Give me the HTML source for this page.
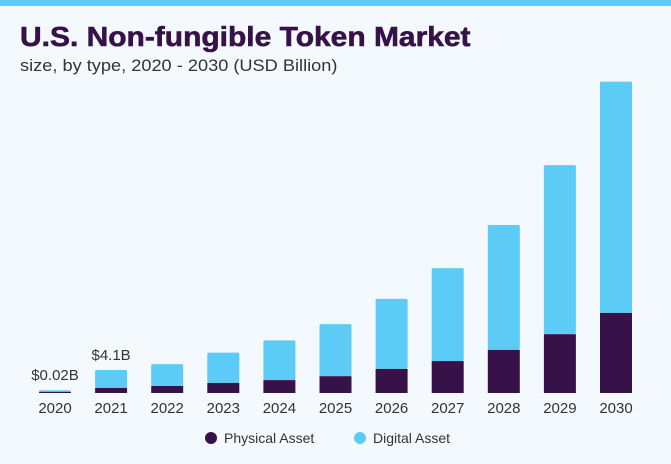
<!DOCTYPE html>
<html><head><meta charset="utf-8"><style>
body{margin:0;width:671px;height:464px;background:#f4f9fd;font-family:"Liberation Sans",sans-serif;overflow:hidden;position:relative}
.top{position:absolute;left:0;top:0;width:671px;height:6px;background:#5ccbf5}
.title{position:absolute;left:20px;top:21px;font-size:28px;font-weight:bold;color:#361248;letter-spacing:0px;transform:scaleX(1.07);transform-origin:left;white-space:nowrap;-webkit-text-stroke:0.6px #361248}
.sub{position:absolute;left:20px;top:56px;font-size:17px;color:#333;transform:scaleX(1.07);transform-origin:left;white-space:nowrap}
</style></head><body>
<div class="top"></div>
<div class="title">U.S. Non-fungible Token Market</div>
<div class="sub">size, by type, 2020 - 2030 (USD Billion)</div>
<svg id="chart" width="671" height="464" style="position:absolute;left:0;top:0"></svg>
<script>
const years=["2020","2021","2022","2023","2024","2025","2026","2027","2028","2029","2030"];
const physical=[0.2,0.9,1.25,1.8,2.3,3.0,4.3,5.7,7.7,10.5,14.3];
const digital=[0.3,3.2,3.9,5.4,7.1,9.3,12.5,16.6,22.3,30.2,41.3];
const annotations=["$0.02B","$4.1B"];
const ns="http://www.w3.org/2000/svg";
const svg=document.getElementById('chart');
const baseY=393,pxPer=5.6,x0=55,step=56.1,bw=32;
const xs=i=>x0+i*step;
const ys=v=>v*pxPer;
function mk(t,a){const e=document.createElementNS(ns,t);for(const k in a)e.setAttribute(k,a[k]);svg.appendChild(e);return e;}
years.forEach((y,i)=>{
  const hp=ys(physical[i]),hd=ys(digital[i]);
  const d=mk('rect',{x:xs(i)-bw/2,y:baseY-hp-hd,width:bw,height:hd,fill:'#5ccbf5',rx:1.5});
  
  
  const p=mk('rect',{x:xs(i)-bw/2,y:baseY-hp,width:bw,height:hp,fill:'#361248'});
  
  
  const t=mk('text',{x:xs(i),y:baseY+20,'text-anchor':'middle','font-size':15,fill:'#333'});
  t.textContent=y;
  
  
});
annotations.forEach((a,i)=>{
  const top=baseY-ys(physical[i]+digital[i]);
  const t=mk('text',{x:xs(i),y:top-10,'text-anchor':'middle','font-size':15,fill:'#333'});
  t.textContent=a;
  
  
});
const leg=[["Physical Asset","#361248",211],["Digital Asset","#5ccbf5",360]];
leg.forEach(l=>{
  const c=mk('circle',{cx:l[2],cy:438,r:6,fill:l[1]});
  
  
  const t=mk('text',{x:l[2]+13,y:443,'font-size':14,fill:'#333'});
  t.textContent=l[0];
  
  
});
</script>
</body></html>
